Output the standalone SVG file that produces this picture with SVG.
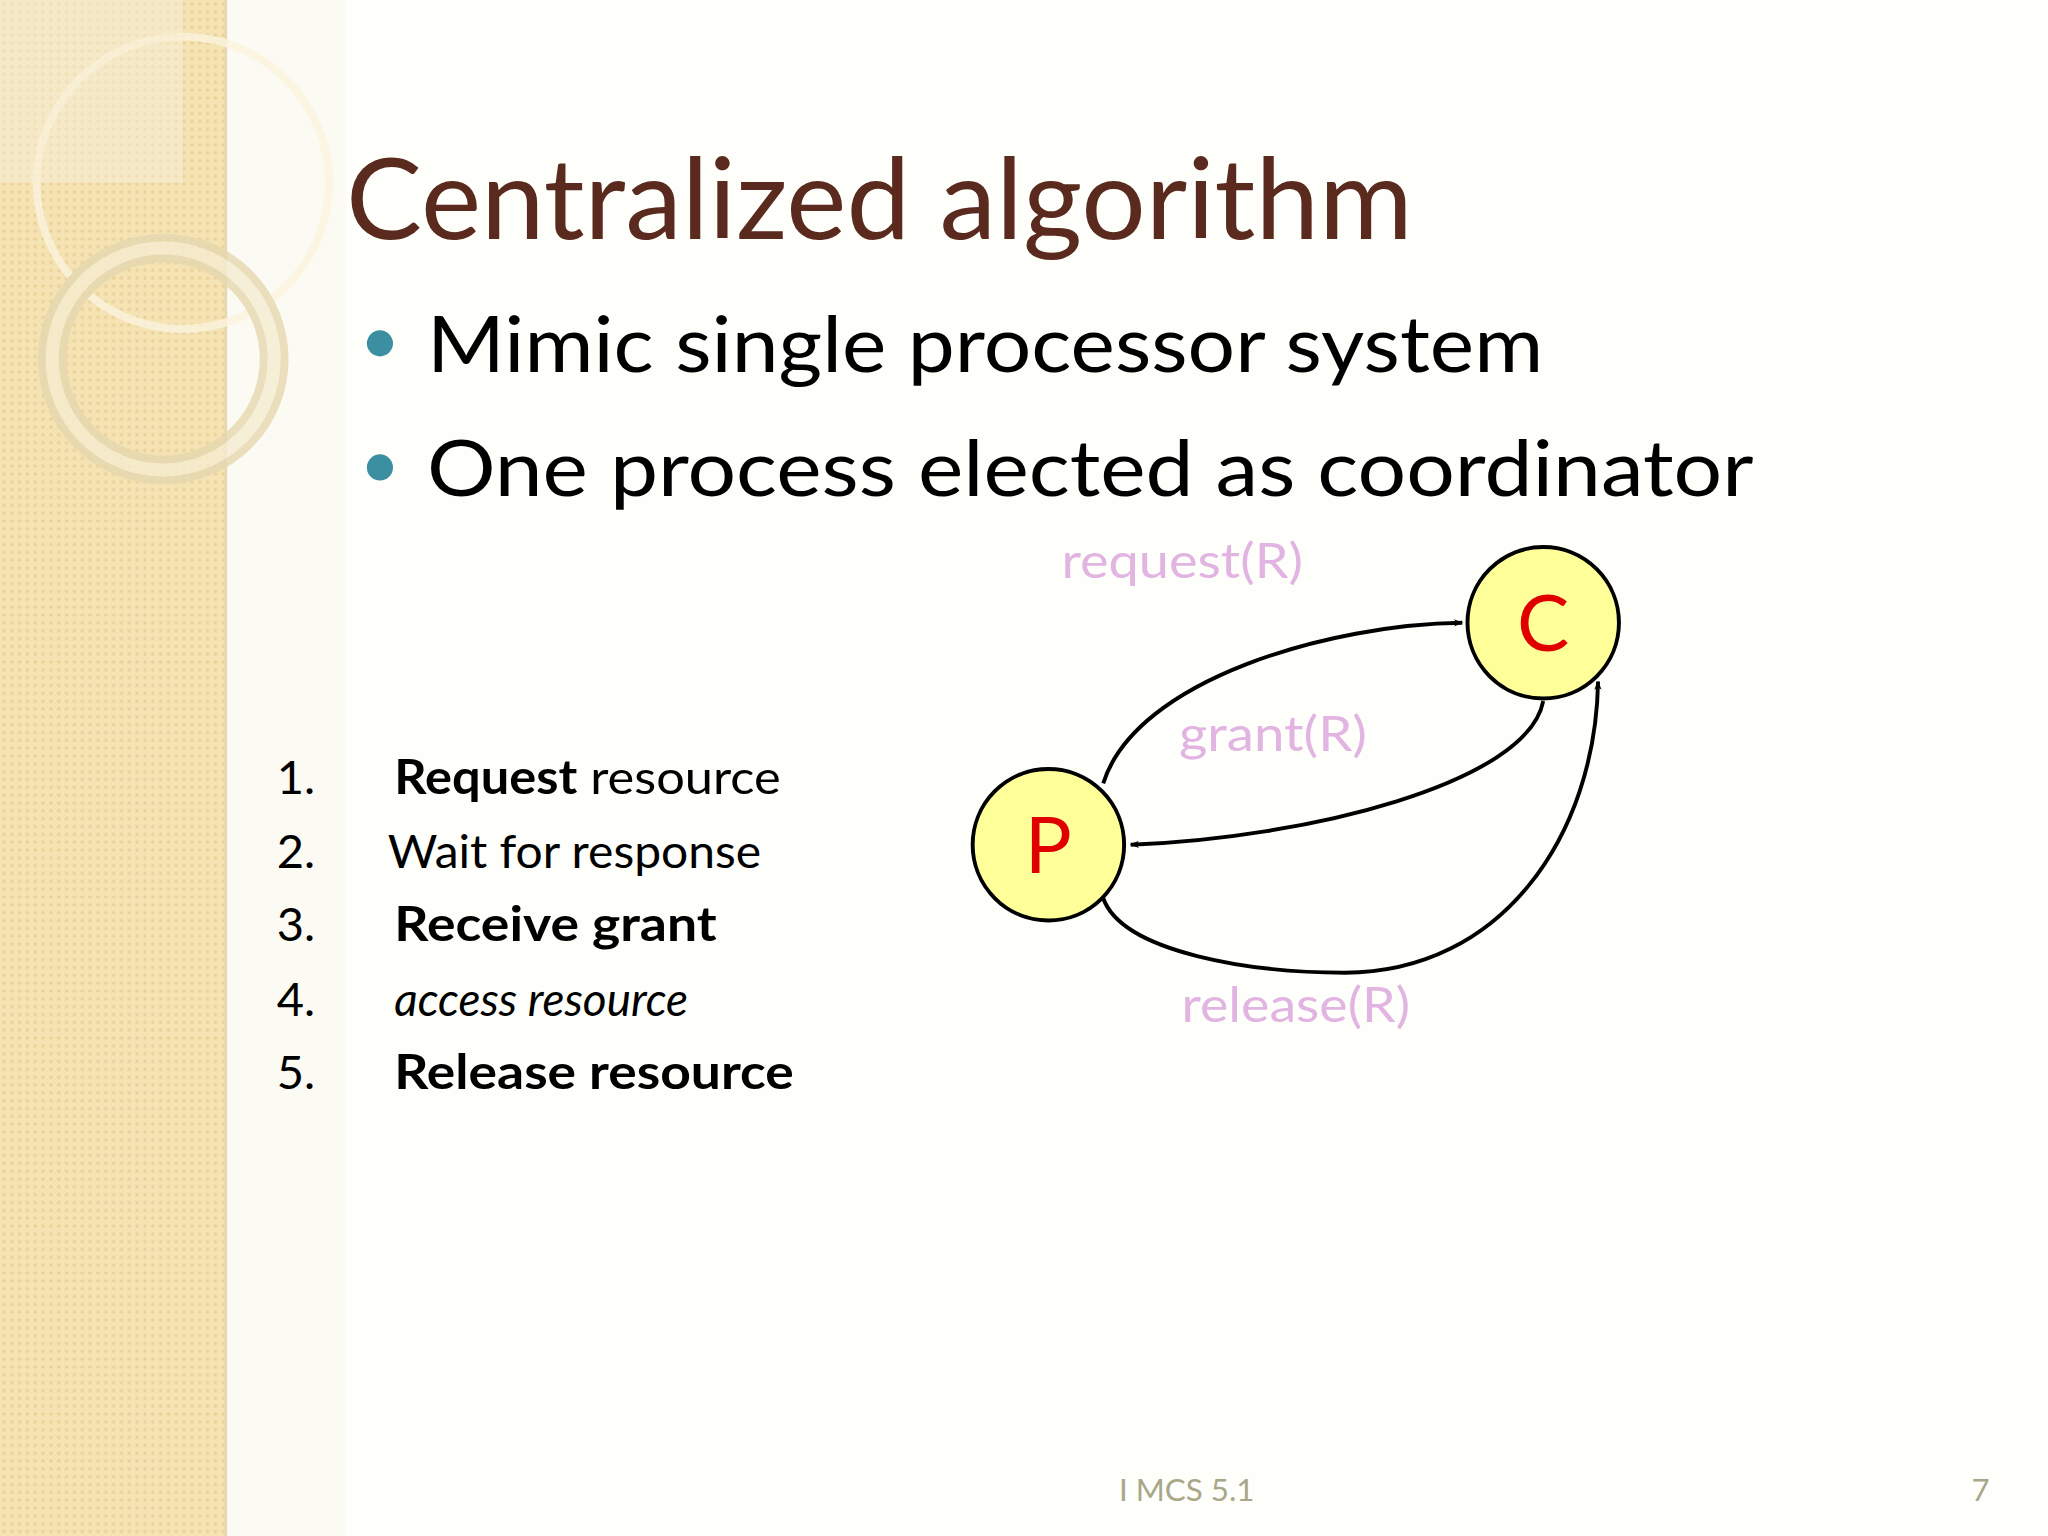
<svg xmlns="http://www.w3.org/2000/svg" width="2048" height="1536" viewBox="0 0 2048 1536">
<defs>
<pattern id="dots" width="6" height="6" patternUnits="userSpaceOnUse"><rect width="6" height="6" fill="#f5e3b3"/><circle cx="3" cy="3" r="1.4" fill="#ead199"/></pattern>
<marker id="ah" viewBox="0 0 10 10" refX="9" refY="5" markerWidth="7" markerHeight="7" orient="auto" markerUnits="userSpaceOnUse"><path d="M0,1 L10,5 L0,9 L3,5 Z" fill="#000"/></marker>
<style>
.t{font-family:Lato,"Open Sans",sans-serif}
.lab{font-family:Lato,"Open Sans",sans-serif;font-size:37px;fill:#e2b4e2}
.li{font-family:Lato,"Open Sans",sans-serif;font-size:36px;fill:#000}
.node{fill:#ffff99;stroke:#000;stroke-width:3}
.nt{font-family:Lato,"Open Sans",sans-serif;font-size:60px;fill:#e00000;text-anchor:middle}
.e{fill:none;stroke:#000;stroke-width:3;marker-end:url(#ah)}
</style>
</defs>
<g transform="scale(1.3056)">
<rect width="1569" height="1177" fill="#fefefb"/>
<rect width="173" height="1177" fill="url(#dots)"/>
<rect x="173" width="92" height="1177" fill="#fbfaf3"/>
<line x1="173" y1="0" x2="173" y2="1177" stroke="#e5d7b0" stroke-width="2"/>
<g fill="none" opacity="0.8">
<circle cx="140" cy="140" r="112" stroke="#fbf4df" stroke-width="6"/>
<circle cx="125" cy="275" r="85" stroke="#e6d8b0" stroke-width="22"/>
<circle cx="125" cy="275" r="85" stroke="#f6edd2" stroke-width="10"/>
<rect x="0" y="0" width="140" height="140" fill="#f8f0dc" opacity="0.6"/>
</g>
<text class="t" x="265" y="183" font-size="86" fill="#5a2a1e" textLength="817" lengthAdjust="spacingAndGlyphs">Centralized algorithm</text>
<circle cx="291" cy="263" r="10" fill="#3b8fa0"/>
<circle cx="291" cy="358" r="10" fill="#3b8fa0"/>
<text class="t" x="327" y="285" font-size="60" fill="#000" textLength="855" lengthAdjust="spacingAndGlyphs">Mimic single processor system</text>
<text class="t" x="327" y="380" font-size="60" fill="#000" textLength="1016" lengthAdjust="spacingAndGlyphs">One process elected as coordinator</text>
<g id="list">
<text class="li" x="212" y="608">1.</text><text class="li" x="302" y="608" textLength="296" lengthAdjust="spacingAndGlyphs"><tspan font-weight="bold">Request</tspan> resource</text>
<text class="li" x="212" y="665">2.</text><text class="li" x="297" y="665" textLength="286" lengthAdjust="spacingAndGlyphs">Wait for response</text>
<text class="li" x="212" y="721">3.</text><text class="li" x="302" y="721" font-weight="bold" textLength="247" lengthAdjust="spacingAndGlyphs">Receive grant</text>
<text class="li" x="212" y="778">4.</text><text class="li" x="302" y="778" font-style="italic" textLength="225" lengthAdjust="spacingAndGlyphs">access resource</text>
<text class="li" x="212" y="834">5.</text><text class="li" x="302" y="834" font-weight="bold" textLength="306" lengthAdjust="spacingAndGlyphs">Release resource</text>
</g>
<g id="connectors">
<path class="e" d="M845,600 C870,520 1020,478 1120,477"/>
<path class="e" d="M1182,537 C1170,600 1000,642 866,647"/>
<path class="e" d="M845,688 C860,730 960,745 1030,745 C1150,745 1222,640 1224,522"/>
</g>
<text class="lab" x="813" y="443" textLength="185" lengthAdjust="spacingAndGlyphs">request(R)</text>
<text class="lab" x="903" y="575" textLength="144" lengthAdjust="spacingAndGlyphs">grant(R)</text>
<text class="lab" x="905" y="783" textLength="175" lengthAdjust="spacingAndGlyphs">release(R)</text>
<g id="C"><circle class="node" cx="1182" cy="477" r="58"/><text class="nt" x="1182" y="499">C</text></g>
<g id="P"><circle class="node" cx="803" cy="647" r="58"/><text class="nt" x="803" y="669">P</text></g>
<text class="t" x="857" y="1150" font-size="24" fill="#a8a888">I MCS 5.1</text>
<text class="t" x="1510" y="1150" font-size="24" fill="#a8a888">7</text>
</g>
</svg>
